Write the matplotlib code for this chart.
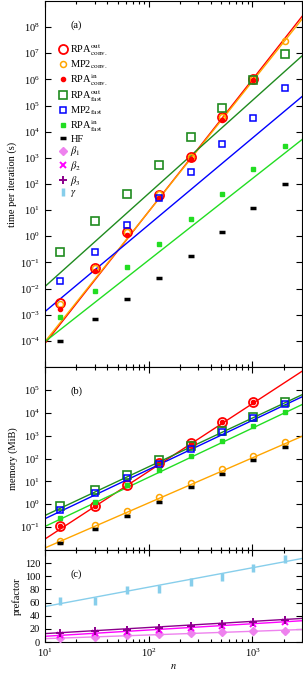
import numpy as np
import matplotlib
matplotlib.use('Agg')
import matplotlib.pyplot as plt
from matplotlib.ticker import LogLocator, NullLocator, NullFormatter, FixedLocator

plt.rcParams['font.family'] = ['Liberation Serif', 'DejaVu Serif']
plt.rcParams['mathtext.fontset'] = 'stix'
plt.rcParams['font.size'] = 7.5

# system sizes
n = np.array([14, 30, 62, 126, 254, 510, 1022, 2046])

# (a) time per iteration (s)
t_rpa_out_conv = [2.8e-3, 0.06, 1.4, 39, 1050, 3.7e4, 1.05e6]
t_mp2_conv = [2.6e-3, 0.06, 1.45, 40, 1080, 3.8e4, 1.0e6, 2.9e7]
t_rpa_in_conv = [1.7e-3, 0.045, 1.15, 29, 910, 2.9e4, 9.1e5]
t_rpa_out_fast = [0.26, 3.7, 42, 520, 6300, 7.9e4, 9.5e5, 9.8e6]
t_mp2_fast = [0.02, 0.245, 2.7, 30, 300, 3300, 3.4e4, 4.5e5]
t_rpa_in_fast = [8e-4, 8.1e-3, 0.069, 0.51, 4.7, 42, 360, 2950]
t_hf = [1e-4, 7e-4, 4e-3, 0.025, 0.18, 1.4, 12, 96]

# (b) memory (MiB)
m_rpa_out_conv = [0.107, 0.85, 7.1, 63, 500, 3900, 3.1e4]
m_mp2_conv = [0.026, 0.12, 0.49, 2.05, 8.5, 35, 135, 550]
m_rpa_in_conv = [0.107, 0.85, 7.1, 63, 500, 3900, 3.1e4]
m_rpa_out_fast = [0.85, 4.3, 19.5, 82, 355, 1600, 6800, 3.1e4]
m_mp2_fast = [0.58, 3.1, 13.8, 59, 265, 1380, 5800, 2.4e4]
m_rpa_in_fast = [0.25, 1.3, 7.0, 30, 130, 590, 2700, 1.1e4]
m_hf = [0.021, 0.083, 0.32, 1.3, 5.4, 21, 87, 330]

# (c) prefactors
beta1 = [6.7, 8.0, 10.0, 11.5, 13.0, 14.5, 16.0, 17.0]
beta2 = [10.3, 13.0, 15.5, 18.0, 21.0, 24.0, 27.0, 30.0]
beta3 = [13.8, 16.4, 19.0, 21.5, 24.0, 27.0, 30.0, 33.0]
gamma = [63, 62.5, 79, 80, 92, 99, 113, 126]

# power-law fits, log10(y) = a + p*log10(n)
fit_time = {'rpa_out_conv': (-9.15, 5.05), 'mp2_conv': (-9.01, 4.98),
            'rpa_out_fast': (-5.48, 3.56), 'mp2_fast': (-6.20, 3.32),
            'rpa_in_fast': (-7.15, 3.12)}
fit_mem = {'rpa_out_conv': (-4.48, 2.96), 'mp2_conv': (-3.88, 1.97),
           'rpa_out_fast': (-2.62, 2.13), 'mp2_fast': (-2.78, 2.15),
           'rpa_in_fast': (-3.12, 2.15)}
# linear in log10(n) fits for the prefactors, y = a + b*log10(n)
fit_pref = {'gamma': (24.5, 29.5), 'beta3': (3.5, 9.3),
            'beta2': (-0.85, 9.55), 'beta1': (-0.5, 5.6)}

red = '#ff0000'
orange = '#ffa500'
dgreen = '#1f8b1f'
blue = '#0000ff'
lgreen = '#22dd22'
violet = '#ee82ee'
magenta = '#ff00ff'
purple = '#8b008b'
skyblue = '#87ceeb'

nn = np.array([10, 3000])

fig = plt.figure(figsize=(3.03, 6.76), dpi=100)
ax1 = fig.add_axes([45/303, 309/676, 257/303, 366/676])
ax2 = fig.add_axes([45/303, 126/676, 257/303, 183/676])
ax3 = fig.add_axes([45/303, 34/676, 257/303, 92/676])

lw = 1.0

def powline(ax, params, color):
    a, p = params
    ax.plot(nn, 10**(a + p*np.log10(nn)), color=color, lw=lw, zorder=2)

def draw_log_panel(ax, d, fits):
    powline(ax, fits['rpa_out_conv'], red)
    powline(ax, fits['mp2_conv'], orange)
    powline(ax, fits['rpa_out_fast'], dgreen)
    powline(ax, fits['mp2_fast'], blue)
    powline(ax, fits['rpa_in_fast'], lgreen)
    h = []
    h += ax.plot(n[:len(d[0])], d[0], 'o', ms=6.5, mfc='none', mec=red, mew=1.3, ls='none', zorder=3)
    h += ax.plot(n[:len(d[1])], d[1], 'o', ms=4.3, mfc='none', mec=orange, mew=1.1, ls='none', zorder=3)
    h += ax.plot(n[:len(d[2])], d[2], 'o', ms=3.0, mfc=red, mec=red, ls='none', zorder=3)
    h += ax.plot(n, d[3], 's', ms=6.0, mfc='none', mec=dgreen, mew=1.2, ls='none', zorder=3)
    h += ax.plot(n, d[4], 's', ms=4.2, mfc='none', mec=blue, mew=1.1, ls='none', zorder=3)
    h += ax.plot(n, d[5], 's', ms=2.6, mfc=lgreen, mec=lgreen, ls='none', zorder=3)
    h += ax.plot(n, d[6], '_', ms=5.0, mec='black', mew=2.5, ls='none', zorder=3)
    return h

h_a = draw_log_panel(ax1, [t_rpa_out_conv, t_mp2_conv, t_rpa_in_conv, t_rpa_out_fast,
                           t_mp2_fast, t_rpa_in_fast, t_hf], fit_time)
draw_log_panel(ax2, [m_rpa_out_conv, m_mp2_conv, m_rpa_in_conv, m_rpa_out_fast,
                     m_mp2_fast, m_rpa_in_fast, m_hf], fit_mem)

# prefactor panel
for key, col in [('gamma', skyblue), ('beta3', purple), ('beta2', magenta), ('beta1', violet)]:
    a, b = fit_pref[key]
    ax3.plot(nn, a + b*np.log10(nn), color=col, lw=lw, zorder=2)
h_c = []
h_c += ax3.plot(n, beta1, 'D', ms=4.0, mfc=violet, mec=violet, ls='none', zorder=3)
h_c += ax3.plot(n, beta2, 'x', ms=5.0, mec=magenta, mew=1.4, ls='none', zorder=3)
h_c += ax3.plot(n, beta3, '+', ms=6.0, mec=purple, mew=1.4, ls='none', zorder=3)
h_c += ax3.plot(n, gamma, '|', ms=6.0, mec=skyblue, mew=2.5, ls='none', zorder=3)

labels = [r'RPA$^{\rm out}_{\rm conv.}$', r'MP2$_{\rm conv.}$', r'RPA$^{\rm in}_{\rm conv.}$',
          r'RPA$^{\rm out}_{\rm fast}$', r'MP2$_{\rm fast}$', r'RPA$^{\rm in}_{\rm fast}$',
          'HF', r'$\beta_1$', r'$\beta_2$', r'$\beta_3$', r'$\gamma$']
ax1.legend(h_a + h_c, labels, loc='upper left', bbox_to_anchor=(0.05, 0.888),
           frameon=False, fontsize=7.5, handlelength=0.9, handletextpad=0.3,
           labelspacing=0.06, borderpad=0, borderaxespad=0)

for ax in (ax1, ax2, ax3):
    ax.set_xscale('log')
    ax.set_xlim(10, 3000)
    ax.xaxis.set_major_locator(LogLocator(base=10))
    ax.xaxis.set_minor_locator(LogLocator(base=10, subs=np.arange(2, 10)))
    ax.xaxis.set_minor_formatter(NullFormatter())
    ax.tick_params(which='both', direction='in', top=True, right=True, width=0.8)
    ax.tick_params(which='major', length=4)
    ax.tick_params(which='minor', length=2)
    for s in ax.spines.values():
        s.set_linewidth(0.8)

ax1.set_yscale('log')
ax1.set_ylim(1e-5, 1e9)
ax1.yaxis.set_major_locator(FixedLocator(10.0**np.arange(-4, 9)))
ax1.yaxis.set_minor_locator(NullLocator())
ax1.tick_params(axis='x', labelbottom=False)
ax1.set_ylabel('time per iteration (s)', labelpad=2)
ax1.text(0.1, 0.935, '(a)', transform=ax1.transAxes, fontsize=7.5, va='center')

ax2.set_yscale('log')
ax2.set_ylim(1e-2, 1e6)
ax2.yaxis.set_major_locator(FixedLocator(10.0**np.arange(-1, 6)))
ax2.yaxis.set_minor_locator(NullLocator())
ax2.tick_params(axis='x', labelbottom=False)
ax2.set_ylabel('memory (MiB)', labelpad=2)
ax2.text(0.1, 0.87, '(b)', transform=ax2.transAxes, fontsize=7.5, va='center')

ax3.set_ylim(0, 140)
ax3.set_yticks(np.arange(0, 121, 20))
ax3.set_ylabel('prefactor', labelpad=2)
ax3.set_xlabel(r'$n$', labelpad=2)
ax3.text(0.1, 0.74, '(c)', transform=ax3.transAxes, fontsize=7.5, va='center')

fig.savefig('out.png', dpi=100)
